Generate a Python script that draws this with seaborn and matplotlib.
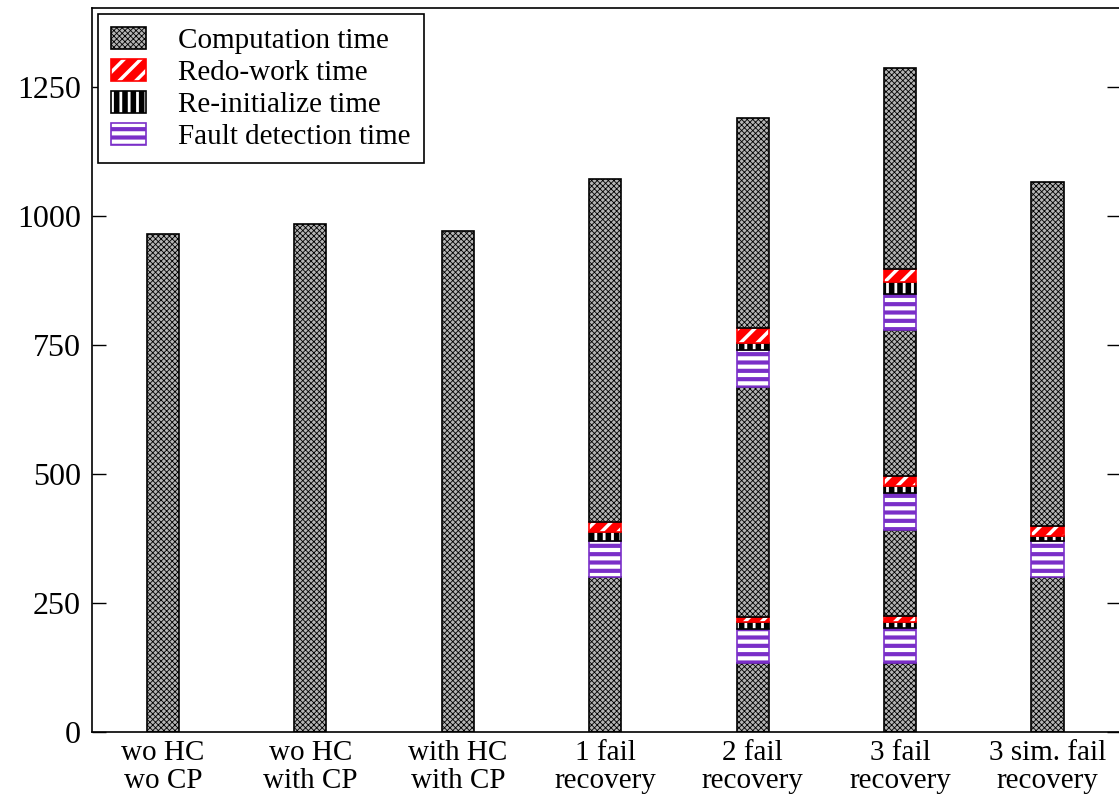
import numpy as np
import matplotlib
matplotlib.use("Agg")
import matplotlib.pyplot as plt
from matplotlib.patches import Patch, Rectangle
import seaborn as sns

categories = ["wo HC\nwo CP", "wo HC\nwith CP", "with HC\nwith CP", "1 fail\nrecovery",
              "2 fail\nrecovery", "3 fail\nrecovery", "3 sim. fail\nrecovery"]

# stacked segments, bottom to top
comp_a   = [965, 984, 971, 300, 134, 134, 300]
fault_a  = [0, 0, 0, 70, 66, 67, 70]
reinit_a = [0, 0, 0, 17, 13, 12, 10]
redo_a   = [0, 0, 0, 20, 10, 12, 19]
comp_b   = [0, 0, 0, 665, 446, 166, 667]
fault_b  = [0, 0, 0, 0, 71, 72, 0]
reinit_b = [0, 0, 0, 0, 14, 14, 0]
redo_b   = [0, 0, 0, 0, 29, 19, 0]
comp_c   = [0, 0, 0, 0, 407, 283, 0]
fault_c  = [0, 0, 0, 0, 0, 70, 0]
reinit_c = [0, 0, 0, 0, 0, 23, 0]
redo_c   = [0, 0, 0, 0, 0, 25, 0]
comp_d   = [0, 0, 0, 0, 0, 390, 0]

legend_labels = ["Computation time", "Redo-work time", "Re-initialize time", "Fault detection time"]
yticks = [0, 250, 500, 750, 1000, 1250]

sns.set_theme(style="ticks")
plt.rcParams["font.family"] = ["Liberation Serif", "DejaVu Serif"]
plt.rcParams["text.color"] = "black"
plt.rcParams["xtick.color"] = "black"
plt.rcParams["ytick.color"] = "black"

fig = plt.figure(figsize=(11.19, 7.99), dpi=100)
ax = fig.add_axes([0.0822, 0.0839, 0.920, 0.906])

x = np.arange(len(categories))
W = 0.22

HATCH_LW = {"xxxxxx": 0.6, "//": 2.5, "||": 2.0, "--": 3.0}

styles = {
    "comp": [dict(facecolor="#b4b4b4", edgecolor="black", hatch="xxxxxx", linewidth=1.2)],
    "redo": [dict(facecolor="#ff0000", edgecolor="white", hatch="//", linewidth=0),
             dict(fill=False, edgecolor="#ff0000", linewidth=1.2)],
    "reinit": [dict(facecolor="black", edgecolor="white", hatch="||", linewidth=0),
               dict(fill=False, edgecolor="black", linewidth=1.2)],
    "fault": [dict(facecolor="white", edgecolor="#7a2fc8", hatch="--", linewidth=1.2)],
}


def fix_hatch(patches):
    for p in patches:
        h = p.get_hatch()
        if h in HATCH_LW and hasattr(p, "set_hatch_linewidth"):
            p.set_hatch_linewidth(HATCH_LW[h])


layers = [(comp_a, "comp"), (fault_a, "fault"), (reinit_a, "reinit"), (redo_a, "redo"),
          (comp_b, "comp"), (fault_b, "fault"), (reinit_b, "reinit"), (redo_b, "redo"),
          (comp_c, "comp"), (fault_c, "fault"), (reinit_c, "reinit"), (redo_c, "redo"),
          (comp_d, "comp")]

# base layer through seaborn
sns.barplot(x=categories, y=comp_a, ax=ax, width=W, saturation=1,
            color="#b4b4b4", edgecolor="black", hatch="xxxxxx", linewidth=1.2)

bottom = np.array(comp_a, dtype=float)
for vals, kind in layers[1:]:
    v = np.array(vals, dtype=float)
    m = v > 0
    for st in styles[kind]:
        ax.bar(x[m], v[m], bottom=bottom[m], width=W, **st)
    bottom += v
fix_hatch(ax.patches)

ax.set_xlim(-0.48, 6.5)
ax.set_ylim(0, 1403)
ax.set_yticks(yticks)
ax.set_xticks(x)
ax.set_xticklabels(categories, fontsize=21, linespacing=1.08)
ax.tick_params(axis="y", direction="in", length=10, width=1, labelsize=23, right=True, pad=8)
ax.tick_params(axis="x", length=0, pad=6)
for s in ax.spines.values():
    s.set_visible(True)
    s.set_color("black")
    s.set_linewidth(1.2)

handles = [
    Patch(**styles["comp"][0]),
    tuple(Patch(**s) for s in styles["redo"]),
    tuple(Patch(**s) for s in styles["reinit"]),
    Patch(**styles["fault"][0]),
]
leg = ax.legend(handles, legend_labels, loc="upper left", fontsize=21, frameon=True,
                fancybox=False, edgecolor="black", framealpha=1, borderaxespad=0.2,
                handlelength=1.2, handleheight=0.78, handletextpad=1.1, labelspacing=0.17,
                borderpad=0.45)
leg.get_frame().set_linewidth(1.2)
fix_hatch([p for p in leg.findobj(Rectangle) if p is not leg.get_frame()])

fig.savefig("out.png", dpi=100)
